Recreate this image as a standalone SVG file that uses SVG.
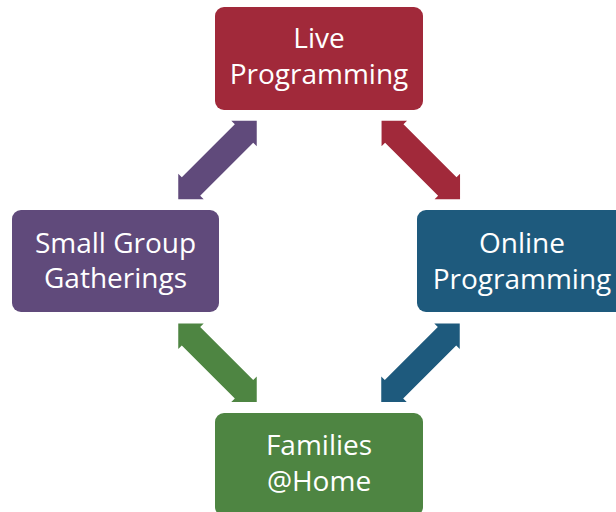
<svg xmlns="http://www.w3.org/2000/svg" width="616" height="512" viewBox="0 0 616 512">
<style>
.lbl{font-family:"Open Sans","Liberation Sans",sans-serif;font-size:28px;fill:#ffffff;text-anchor:middle}
</style>
<defs>
<path id="arr" d="M-55.5,0 L-37.5,-18 L-37.5,-13 L37.5,-13 L37.5,-18 L55.5,0 L37.5,18 L37.5,13 L-37.5,13 L-37.5,18 Z"/>
</defs>
<rect width="616" height="512" fill="#ffffff"/>
<g id="connectors">
<use href="#arr" fill="#604A7B" transform="translate(217.5,160) rotate(-45)"/>
<use href="#arr" fill="#A1293A" transform="translate(420.8,160) rotate(45)"/>
<use href="#arr" fill="#4E8542" transform="translate(217.5,362.8) rotate(45)"/>
<use href="#arr" fill="#1E5A7D" transform="translate(420.5,362.8) rotate(-45)"/>
</g>
<g id="live">
<rect x="215" y="7" width="208" height="103" rx="9" fill="#A1293A"/>
<text class="lbl" x="319" y="48">Live</text>
<text class="lbl" x="319" y="84">Programming</text>
</g>
<g id="online">
<rect x="417" y="210" width="208" height="102" rx="9" fill="#1E5A7D"/>
<text class="lbl" x="522" y="253">Online</text>
<text class="lbl" x="522" y="289">Programming</text>
</g>
<g id="small">
<rect x="12" y="210" width="207" height="102" rx="9" fill="#604A7B"/>
<text class="lbl" x="115.5" y="253">Small Group</text>
<text class="lbl" x="115.5" y="288">Gatherings</text>
</g>
<g id="families">
<rect x="215" y="413" width="208" height="103" rx="9" fill="#4E8542"/>
<text class="lbl" x="319" y="455">Families</text>
<text class="lbl" x="319" y="491">@Home</text>
</g>
</svg>
